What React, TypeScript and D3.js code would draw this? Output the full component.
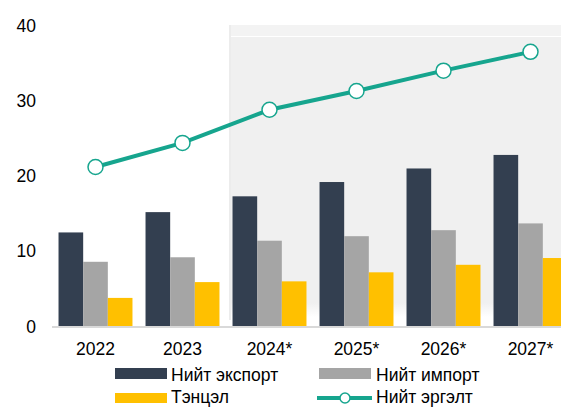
import React from "react";
import * as d3 from "d3";

const years = ["2022", "2023", "2024*", "2025*", "2026*", "2027*"];
const exportVals = [12.5, 15.2, 17.3, 19.2, 21.0, 22.8];
const importVals = [8.6, 9.2, 11.4, 12.0, 12.8, 13.7];
const balanceVals = [3.8, 5.9, 6.0, 7.2, 8.2, 9.1];
const tradeVals = [21.2, 24.4, 28.8, 31.3, 34.0, 36.5];
const yTicks = [0, 10, 20, 30, 40];

const seriesNames = ["Нийт экспорт", "Нийт импорт", "Тэнцэл", "Нийт эргэлт"];
const colors = ["#333f50", "#a5a5a5", "#ffc000", "#16a58e"];

export default function App() {
  const W = 561, H = 407;
  const x = d3.scaleBand<string>().domain(years).range([52, 574]).paddingInner(0.15).paddingOuter(0.075);
  const y = d3.scaleLinear().domain([0, 40]).range([326.5, 25.5]);
  const bw = x.bandwidth() / 3;
  const series = [exportVals, importVals, balanceVals];
  const line = d3.line<number>().x((_, i) => (x(years[i]) as number) + x.bandwidth() / 2).y((d) => y(d));
  const font = "'Liberation Sans', Arial, sans-serif";
  const shadeX = 231;

  return (
    <svg width={W} height={H} style={{ position: "absolute", left: 0, top: 0 }} fontFamily={font}>
      <defs>
        <linearGradient id="fadeB" x1="0" y1="0" x2="0" y2="1">
          <stop offset="0" stopColor="#f0f0f0" />
          <stop offset="1" stopColor="#ffffff" />
        </linearGradient>
      </defs>
      <rect x={shadeX} y={25} width={W - shadeX} height={11} fill="#f3f3f3" />
      <rect x={shadeX} y={37} width={W - shadeX} height={266} fill="#f0f0f0" />
      <rect x={shadeX} y={303} width={W - shadeX} height={14} fill="url(#fadeB)" />
      <line x1={shadeX - 1} x2={shadeX - 1} y1={25} y2={320} stroke="#ececec" strokeWidth={2} />
      {series.map((vals, si) =>
        vals.map((v, i) => (
          <rect
            key={`${si}-${i}`}
            x={(x(years[i]) as number) + si * bw}
            y={y(v)}
            width={bw}
            height={y(0) - y(v)}
            fill={colors[si]}
          />
        ))
      )}
      <line x1={52} x2={W} y1={327} y2={327} stroke="#d9d9d9" strokeWidth={2} />
      <path d={line(tradeVals) || ""} fill="none" stroke={colors[3]} strokeWidth={4} />
      {tradeVals.map((v, i) => (
        <circle key={i} cx={(x(years[i]) as number) + x.bandwidth() / 2} cy={y(v)} r={7.5} fill="#fff" stroke={colors[3]} strokeWidth={1.5} />
      ))}
      {yTicks.map((t) => (
        <text key={t} x={36} y={y(t)} dy="0.35em" textAnchor="end" fontSize={17.5} fill="#000">
          {t}
        </text>
      ))}
      {years.map((yr) => (
        <text key={yr} x={(x(yr) as number) + x.bandwidth() / 2} y={355} textAnchor="middle" fontSize={17.5} fill="#000">
          {yr}
        </text>
      ))}
      {/* legend */}
      <rect x={115} y={368} width={52} height={11} fill={colors[0]} />
      <text x={171} y={380.5} fontSize={17.5}>{seriesNames[0]}</text>
      <rect x={319} y={368} width={52} height={11} fill={colors[1]} />
      <text x={376} y={380.5} fontSize={17.5}>{seriesNames[1]}</text>
      <rect x={115} y={393} width={52} height={10} fill={colors[2]} />
      <text x={171} y={403} fontSize={17.5}>{seriesNames[2]}</text>
      <line x1={317} x2={372} y1={398} y2={398} stroke={colors[3]} strokeWidth={4} />
      <circle cx={345} cy={398} r={5} fill="#fff" stroke={colors[3]} strokeWidth={1.5} />
      <text x={376} y={403} fontSize={17.5}>{seriesNames[3]}</text>
    </svg>
  );
}
